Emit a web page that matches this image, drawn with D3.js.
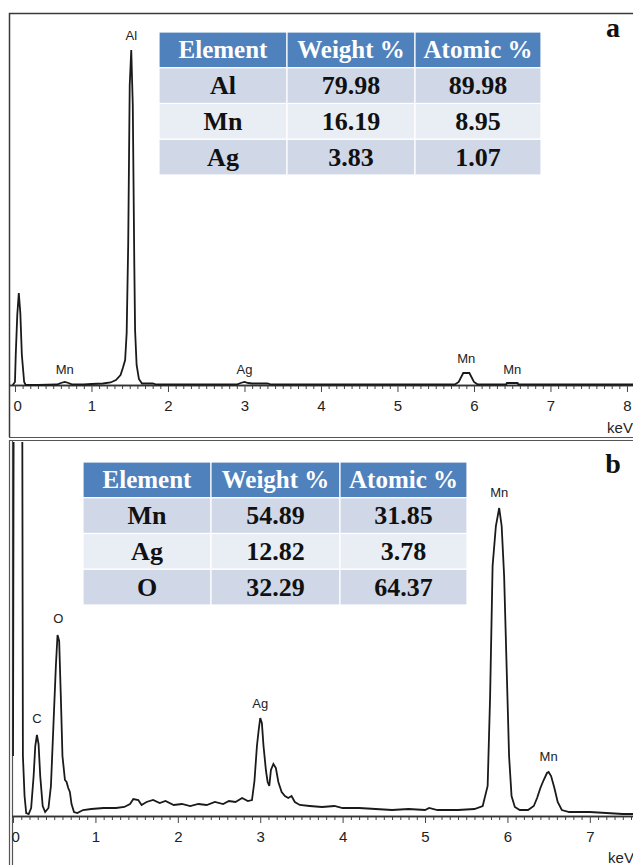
<!DOCTYPE html>
<html>
<head>
<meta charset="utf-8">
<script src="https://cdnjs.cloudflare.com/ajax/libs/d3/7.8.5/d3.min.js"></script>
<style>
  html, body { margin: 0; padding: 0; background: #fff; }
  svg { display: block; }
  .tick-lbl { font-family: "Liberation Sans", Arial, sans-serif; font-size: 15px; fill: #222; }
  .peak-lbl { font-family: "Liberation Sans", Arial, sans-serif; font-size: 13px; fill: #222; }
  .tbl { font-family: "Liberation Serif", "Times New Roman", serif; font-weight: bold; }
  .panel-lbl { font-family: "Liberation Serif", "Times New Roman", serif; font-weight: bold; font-size: 28px; fill: #111; }
</style>
</head>
<body>
<div id="chart"></div>
<script>
// ---- panel a: spectrum (keV, counts) ----
var keVA = [-0.03, 0.0, 0.01, 0.03, 0.05, 0.07, 0.09, 0.12, 0.14, 0.3, 0.55, 0.6, 0.65, 0.7, 0.75,
  0.9, 1.0, 1.15, 1.25, 1.32, 1.38, 1.41, 1.44, 1.46, 1.48, 1.5, 1.52, 1.54, 1.56, 1.57, 1.59, 1.62,
  1.66, 1.8, 1.85, 2.9, 2.95, 3.0, 3.05, 3.1, 3.3, 3.35, 5.75, 5.8, 5.86, 5.94, 6.0, 6.05, 6.42,
  6.43, 6.57, 6.58, 8.1];
var countsA = [0, 3, 30, 70, 92, 72, 30, 3, 0, 0, 0.5, 2, 3, 2, 0.5,
  0.5, 1, 1.5, 2.5, 5, 10, 17, 25, 52, 140, 300, 335, 280, 120, 55, 20, 6,
  1.5, 1.5, 0.5, 0.5, 2, 3, 2, 1.5, 1.5, 0.5, 0.5, 3, 12, 12, 3, 0.5, 0.5,
  2, 2, 0.5, 0.5];
var peaksA = ["Mn", "Al", "Ag", "Mn", "Mn"];
var peakKeVA = [0.65, 1.52, 3.0, 5.9, 6.5];
var peakTopA = [11, 345, 11, 22, 11];

// ---- panel b: spectrum (keV, counts) ----
var keVB = [0.0, 0.01, 0.11, 0.12, 0.14, 0.16, 0.19, 0.22, 0.25, 0.27, 0.29, 0.31, 0.33, 0.36, 0.39,
  0.43, 0.46, 0.49, 0.52, 0.54, 0.56, 0.58, 0.6, 0.63, 0.65, 0.67, 0.69, 0.71, 0.74, 0.78, 0.85,
  0.95, 1.1, 1.25, 1.35, 1.42, 1.46, 1.52, 1.56, 1.62, 1.7, 1.78, 1.85, 1.95, 2.05, 2.15, 2.25,
  2.35, 2.45, 2.55, 2.62, 2.7, 2.78, 2.85, 2.9, 2.93, 2.96, 2.98, 3.0, 3.02, 3.04, 3.07, 3.09,
  3.11, 3.13, 3.16, 3.19, 3.22, 3.26, 3.3, 3.34, 3.38, 3.42, 3.48, 3.6, 3.75, 3.9, 4.0, 4.2,
  4.4, 4.6, 4.8, 5.0, 5.05, 5.15, 5.4, 5.6, 5.7, 5.76, 5.79, 5.82, 5.86, 5.9, 5.93, 5.96, 6.0,
  6.02, 6.05, 6.09, 6.15, 6.25, 6.32, 6.36, 6.4, 6.44, 6.48, 6.5, 6.53, 6.57, 6.61, 6.66, 6.75,
  6.9, 7.0, 7.2, 7.4, 7.6];
var countsB = [60, 500, 500, 60, 20, 3, 2, 8, 40, 70, 81, 72, 40, 10, 4,
  8, 30, 90, 150, 181, 175, 120, 60, 36, 34, 28, 24, 12, 4, 3, 6,
  7, 8, 8, 9, 12, 17, 16, 11, 14, 16, 13, 15, 11, 12, 10, 12,
  11, 14, 12, 15, 14, 18, 15, 16, 35, 70, 85, 98, 93, 70, 45, 34,
  30, 46, 52, 48, 34, 24, 20, 18, 20, 14, 11, 10, 9, 10, 8, 8,
  7, 6, 7, 6, 8, 6, 6, 7, 10, 30, 120, 250, 290, 308, 290, 240, 120,
  60, 20, 9, 6, 6, 10, 18, 28, 36, 43, 44, 40, 28, 14, 6, 4,
  4, 4, 3, 2, 2];
var peaksB = ["C", "O", "Ag", "Mn", "Mn"];
var peakKeVB = [0.29, 0.55, 3.0, 5.9, 6.5];
var peakTopB = [93, 193, 108, 319, 55];

// ---- tables ----
var tableHeader = ["Element", "Weight %", "Atomic %"];
var elementsA = ["Al", "Mn", "Ag"];
var weightA = ["79.98", "16.19", "3.83"];
var atomicA = ["89.98", "8.95", "1.07"];
var elementsB = ["Mn", "Ag", "O"];
var weightB = ["54.89", "12.82", "32.29"];
var atomicB = ["31.85", "3.78", "64.37"];

var W = 633, H = 865;
var svg = d3.select("#chart").append("svg").attr("width", W).attr("height", H);

var frame = "#3a3a3a";

// frames
var fr = svg.append("g").attr("fill", "none").attr("stroke", frame);
fr.append("path").attr("d", "M9.5,437 V13.5 H633").attr("stroke-width", 1.5);
fr.append("path").attr("d", "M9,437.5 H633 M9,440.5 H633").attr("stroke-width", 1.2).attr("stroke", "#555");
fr.append("path").attr("d", "M9.5,440 V865 M12.5,441 V865").attr("stroke-width", 1.2).attr("stroke", "#555");

function drawPanel(cfg) {
  var g = svg.append("g");
  var x = d3.scaleLinear().domain(cfg.xDomain).range(cfg.xRange);
  var y = d3.scaleLinear().domain([0, cfg.yMax]).range([cfg.base, cfg.top]);

  // clip
  var clipId = "clip-" + cfg.name;
  svg.append("clipPath").attr("id", clipId).append("rect")
    .attr("x", cfg.xRange[0]).attr("y", cfg.clipTop)
    .attr("width", W - cfg.xRange[0]).attr("height", cfg.base - cfg.clipTop + 2);

  // axis
  var maxK = Math.floor(cfg.xDomain[1]);
  var majors = d3.range(0, maxK + 1);
  var minors = d3.range(0, Math.round(cfg.xDomain[1] * 10) + 1).map(function (i) { return i / 10; })
    .filter(function (v) { return Math.abs(v - Math.round(v)) > 1e-6; });

  var axisMinor = d3.axisBottom(x).tickValues(minors).tickSize(4).tickFormat("");
  var axisMajor = d3.axisBottom(x).tickValues(majors).tickSize(7).tickPadding(8)
    .tickFormat(d3.format("d"));

  var ga = g.append("g").attr("transform", "translate(0," + cfg.base + ")");
  ga.call(axisMinor);
  var gb = g.append("g").attr("transform", "translate(0," + cfg.base + ")");
  gb.call(axisMajor);
  [ga, gb].forEach(function (a) {
    a.select(".domain").attr("stroke", "#333").attr("stroke-width", 1.3)
      .attr("d", "M" + cfg.xRange[0] + ",0.5H" + W);
    a.selectAll(".tick line").attr("stroke", "#444").attr("stroke-width", 1);
  });
  gb.selectAll(".tick text").attr("class", "tick-lbl").attr("font-size", null).attr("font-family", null)
    .attr("fill", null);
  gb.selectAll(".tick").filter(function (d) { return d === 0; }).select("text")
    .attr("text-anchor", "start").attr("dx", -2);

  g.append("text").attr("class", "tick-lbl").attr("x", cfg.kevX).attr("y", cfg.kevY)
    .attr("text-anchor", "middle").text("keV");

  // spectrum
  var pts = cfg.keV.map(function (k, i) { return [k, cfg.counts[i]]; });
  var line = d3.line().x(function (d) { return x(d[0]); }).y(function (d) { return y(d[1]); });
  g.append("path").datum(pts)
    .attr("clip-path", "url(#" + clipId + ")")
    .attr("fill", "none").attr("stroke", "#1a1a1a").attr("stroke-width", 1.8)
    .attr("stroke-linejoin", "miter")
    .attr("d", line);

  // peak labels
  g.selectAll(".peak-lbl-" + cfg.name).data(cfg.peaks).enter().append("text")
    .attr("class", "peak-lbl")
    .attr("x", function (d, i) { return x(cfg.peakKeV[i]); })
    .attr("y", function (d, i) { return y(cfg.peakTop[i]); })
    .attr("text-anchor", "middle")
    .text(function (d) { return d; });

  // panel letter
  g.append("text").attr("class", "panel-lbl").attr("x", cfg.letterX).attr("y", cfg.letterY)
    .attr("text-anchor", "middle").text(cfg.name);
}

function drawTable(cfg) {
  var g = svg.append("g");
  var rowsData = [tableHeader].concat(cfg.elements.map(function (e, i) {
    return [e, cfg.weight[i], cfg.atomic[i]];
  }));
  var rows = d3.scaleBand().domain(d3.range(rowsData.length)).range([cfg.y0, cfg.y1]);
  var fills = ["#4F81BD", "#D0D8E8", "#E9EDF4", "#D0D8E8"];
  var colW = [cfg.colSplit[0] - cfg.x0, cfg.colSplit[1] - cfg.colSplit[0], cfg.x1 - cfg.colSplit[1]];
  var colX = [cfg.x0, cfg.colSplit[0], cfg.colSplit[1]];

  rowsData.forEach(function (r, ri) {
    r.forEach(function (c, ci) {
      g.append("rect")
        .attr("x", colX[ci]).attr("y", rows(ri))
        .attr("width", colW[ci]).attr("height", rows.bandwidth())
        .attr("fill", fills[ri]).attr("stroke", "#fff").attr("stroke-width", 1.2);
      g.append("text").attr("class", "tbl")
        .attr("x", colX[ci] + colW[ci] / 2)
        .attr("y", rows(ri) + rows.bandwidth() / 2 + 8.5)
        .attr("text-anchor", "middle")
        .attr("fill", ri === 0 ? "#fff" : "#111")
        .attr("font-size", ri === 0 ? "25px" : "26px")
        .text(c);
    });
  });
}

drawPanel({
  name: "a", keV: keVA, counts: countsA,
  peaks: peaksA, peakKeV: peakKeVA, peakTop: peakTopA,
  xDomain: [-0.065, 8.1], xRange: [10, 10 + 8.165 * 76.5],
  yMax: 335, base: 385, top: 50, clipTop: 14,
  kevX: 620, kevY: 433, letterX: 613, letterY: 37
});

drawPanel({
  name: "b", keV: keVB, counts: countsB,
  peaks: peaksB, peakKeV: peakKeVB, peakTop: peakTopB,
  xDomain: [-0.01, 7.6], xRange: [12.2, 12.2 + 7.61 * 82.4],
  yMax: 308, base: 816, top: 508, clipTop: 442,
  kevX: 621, kevY: 863, letterX: 613, letterY: 473
});

drawTable({ elements: elementsA, weight: weightA, atomic: atomicA,
  x0: 159, x1: 541, colSplit: [287, 415], y0: 32, y1: 175 });
drawTable({ elements: elementsB, weight: weightB, atomic: atomicB,
  x0: 83, x1: 467, colSplit: [211, 340], y0: 462, y1: 605 });
</script>
</body>
</html>
